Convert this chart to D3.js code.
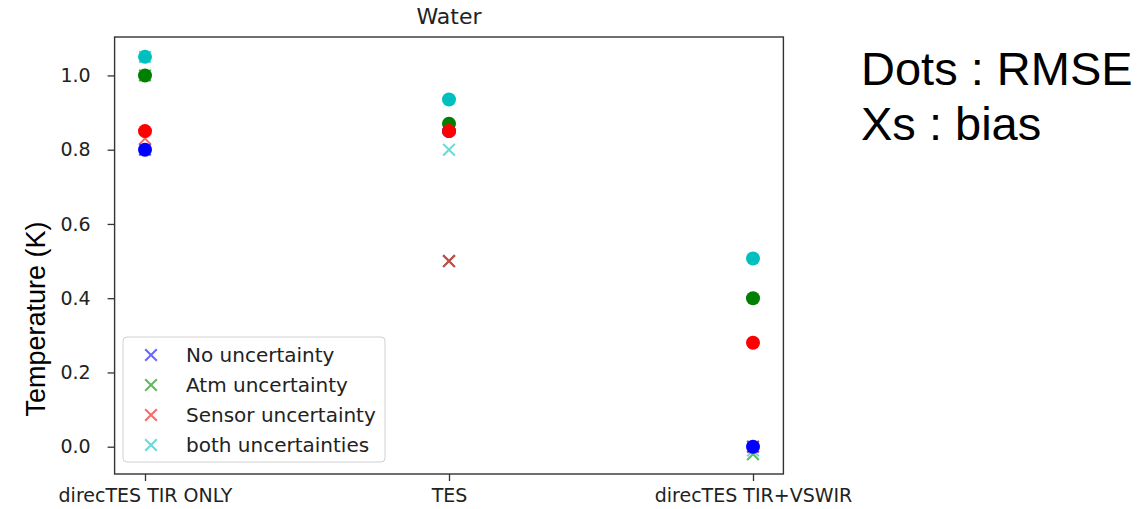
<!DOCTYPE html>
<html>
<head>
<meta charset="utf-8">
<script src="https://cdn.jsdelivr.net/npm/d3@7"></script>
<style>
  body { margin: 0; background: #fff; }
  svg { display: block; }
</style>
</head>
<body>
<script>
'use strict';

// data
var categories = ['direcTES TIR ONLY', 'TES', 'direcTES TIR+VSWIR'];
var seriesNames = ['No uncertainty', 'Atm uncertainty', 'Sensor uncertainty', 'both uncertainties'];
var colors = ['#0000ff', '#008000', '#ff0000', '#00bfbf'];
var xColors = ['#3333ff', '#2ca02c', '#ff3333', '#33cccc'];
// RMSE (dots), per series, per category
var rmse = [
  [0.80, 0.85, 0.00],
  [1.00, 0.87, 0.40],
  [0.85, 0.85, 0.28],
  [1.05, 0.935, 0.507]
];
// bias (crosses)
var bias = [
  [0.80, 0.50, 0.00],
  [1.00, 0.50, -0.02],
  [0.83, 0.50, 0.00],
  [1.05, 0.80, -0.01]
];
var yTicks = [0.0, 0.2, 0.4, 0.6, 0.8, 1.0];

var width = 1140, height = 509;
var plotLeft = 114.6, plotRight = 783.4, plotTop = 37, plotBottom = 474;

var svg = d3.select('body').append('svg')
  .attr('width', width)
  .attr('height', height);

var x = d3.scaleLinear().domain([-0.1, 2.1]).range([plotLeft, plotRight]);
var y = d3.scaleLinear().domain([-0.0735, 1.1035]).range([plotBottom, plotTop]);

var font = 'DejaVu Sans, sans-serif';

// axes
var yAxis = svg.append('g')
  .attr('transform', 'translate(' + plotLeft + ',0)')
  .call(d3.axisLeft(y).tickValues(yTicks).tickFormat(d3.format('.1f')).tickSize(7).tickPadding(17));
var xAxis = svg.append('g')
  .attr('transform', 'translate(0,' + plotBottom + ')')
  .call(d3.axisBottom(x).tickValues([0, 1, 2]).tickFormat(function(d){ return categories[d]; }).tickSize(7).tickPadding(8));

[yAxis, xAxis].forEach(function(a){
  a.select('.domain').remove();
  a.selectAll('text').attr('font-family', font).attr('font-size', 19).attr('fill', '#222');
  a.selectAll('line').attr('stroke', '#333').attr('stroke-width', 1.3);
});

var cross = d3.symbol().type(d3.symbolX).size(90);

// crosses first, dots on top of them
seriesNames.forEach(function(name, s){
  svg.append('g').selectAll('path').data(bias[s]).enter().append('path')
    .attr('d', cross)
    .attr('transform', function(d, i){ return 'translate(' + x(i) + ',' + y(d) + ')'; })
    .attr('fill', 'none')
    .attr('stroke', xColors[s])
    .attr('stroke-opacity', 0.75)
    .attr('stroke-width', 2);
});
seriesNames.forEach(function(name, s){
  svg.append('g').selectAll('circle').data(rmse[s]).enter().append('circle')
    .attr('cx', function(d, i){ return x(i); })
    .attr('cy', function(d){ return y(d); })
    .attr('r', 7)
    .attr('fill', colors[s]);
});

// frame
svg.append('rect')
  .attr('x', plotLeft).attr('y', plotTop)
  .attr('width', plotRight - plotLeft).attr('height', plotBottom - plotTop)
  .attr('fill', 'none').attr('stroke', '#333').attr('stroke-width', 1.4);

// title
svg.append('text')
  .attr('x', (plotLeft + plotRight) / 2).attr('y', 24)
  .attr('text-anchor', 'middle')
  .attr('font-family', font).attr('font-size', 22).attr('fill', '#222')
  .text('Water');

// y label
svg.append('text')
  .attr('transform', 'translate(45,319) rotate(-90)')
  .attr('text-anchor', 'middle')
  .attr('font-family', 'Liberation Sans, Arial, sans-serif').attr('font-size', 27).attr('fill', '#000')
  .text('Temperature (K)');

// legend
var legend = svg.append('g');
legend.append('rect')
  .attr('x', 123).attr('y', 337).attr('width', 262).attr('height', 125)
  .attr('rx', 4).attr('fill', '#fff').attr('fill-opacity', 0.8)
  .attr('stroke', '#d0d0d0');
seriesNames.forEach(function(name, s){
  var ly = 355 + s * 30;
  legend.append('path')
    .attr('d', cross)
    .attr('transform', 'translate(151,' + ly + ')')
    .attr('fill', 'none')
    .attr('stroke', xColors[s])
    .attr('stroke-opacity', 0.75)
    .attr('stroke-width', 2);
  legend.append('text')
    .attr('x', 186).attr('y', ly + 7)
    .attr('font-family', font).attr('font-size', 20).attr('fill', '#222')
    .text(name);
});

// side notes
var note = svg.append('g')
  .attr('font-family', 'Liberation Sans, Arial, sans-serif')
  .attr('font-size', 47).attr('fill', '#000');
note.append('text').attr('x', 861).attr('y', 85).text('Dots : RMSE');
note.append('text').attr('x', 861).attr('y', 140).text('Xs : bias');
</script>
</body>
</html>
